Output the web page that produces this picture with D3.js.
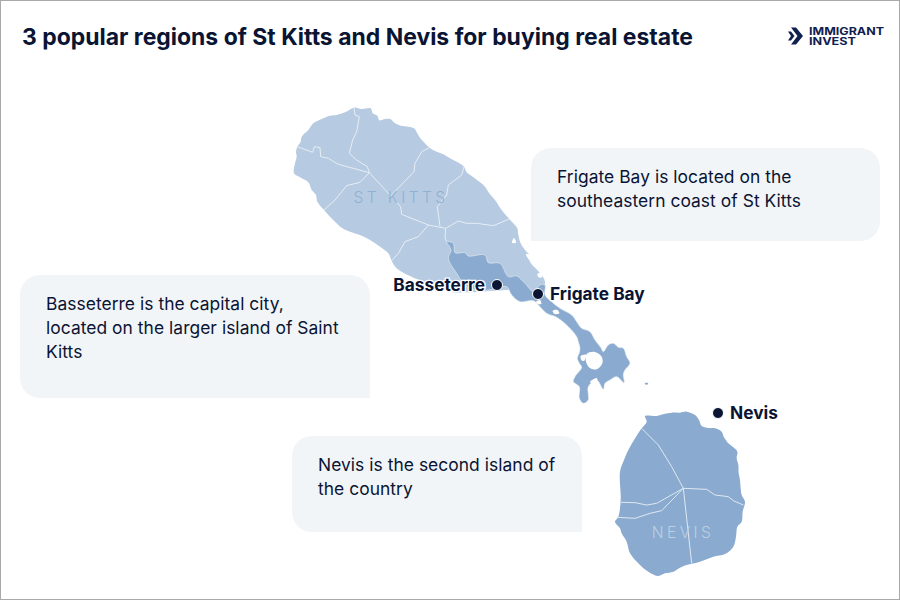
<!DOCTYPE html>
<html>
<head>
<meta charset="utf-8">
<script src="https://cdn.jsdelivr.net/npm/d3@7"></script>
<style>
html, body { margin: 0; padding: 0; background: #fff; }
svg { display: block; font-family: Inter, "Noto Sans", sans-serif; }
</style>
</head>
<body>
<div id="chart"></div>
<script>
const titleText = "3 popular regions of St Kitts and Nevis for buying real estate"
const logoLines = ["IMMIGRANT", "INVEST"]

// outlines, in crop units (3x)
const kittsOutline = [[222,38],[245,42],[272,40],[278,55],[292,62],[298,76],[315,72],[332,73],[345,85],[362,92],[385,95],[402,100],[412,115],[420,128],[435,145],[448,158],[470,170],[490,178],[510,190],[530,200],[552,215],[560,232],[578,245],[600,262],[615,275],[628,295],[645,315],[665,345],[688,372],[700,385],[712,400],[715,420],[722,445],[735,465],[748,480],[750,500],[780,534],[795,561],[780,591],[700,585],[600,590],[560,592],[510,590],[450,565],[400,548],[350,520],[335,497],[325,475],[300,455],[270,435],[240,420],[210,410],[185,398],[165,380],[150,365],[132,345],[112,320],[108,300],[95,285],[85,262],[60,247],[42,235],[45,205],[50,185],[48,170],[52,155],[62,140],[65,125],[85,105],[100,85],[125,72],[150,62],[170,60],[195,52]]
const kittsBorders = [
	[[222,38],[225,60],[238,65],[230,110],[218,135],[208,175],[230,195],[262,215],[268,233]],
	[[52,155],[98,172],[103,155],[120,158],[122,185],[145,190],[175,208],[268,233]],
	[[268,233],[240,262],[200,272],[165,315],[132,345]],
	[[268,233],[362,335],[365,358],[445,390],[497,400]],
	[[448,158],[425,170],[405,205],[402,230],[330,305]],
	[[552,215],[545,240],[505,270],[500,300],[472,335],[480,395]],
	[[497,400],[535,378],[560,385],[590,385],[640,392],[688,372]],
	[[497,400],[495,430],[500,440]],
	[[445,390],[415,425],[375,440],[355,475],[335,497]]
]
const bayOutline = [[20,35],[40,40],[45,68],[75,68],[85,78],[135,75],[145,98],[180,100],[205,140],[230,138],[255,160],[280,185],[300,165],[315,165],[315,195],[335,215],[360,235],[395,255],[410,275],[425,295],[450,305],[465,330],[482,352],[490,365],[505,345],[520,340],[535,352],[550,355],[560,380],[570,400],[555,420],[550,432],[552,458],[530,440],[510,450],[495,460],[490,478],[470,450],[445,470],[445,495],[445,510],[430,520],[418,505],[418,470],[400,455],[405,440],[425,412],[418,400],[412,385],[418,368],[420,355],[415,335],[410,320],[385,290],[350,262],[320,250],[300,230],[280,212],[240,215],[215,195],[200,170],[160,178],[110,180],[75,165],[50,130],[25,85],[33,60]]
const bayHoles = [
	[[440,372],[465,366],[485,380],[487,400],[470,418],[450,414],[438,395]],
	[[422,378],[438,374],[432,393],[424,390]],
	[[450,456],[470,444],[472,456],[456,460]],
	[[338,243],[352,240],[358,250],[344,252]],
	[[216,38],[222,24],[228,38]],
	[[258,72],[268,74],[280,92],[268,90]],
	[[292,132],[305,130],[305,142],[296,142]],
	[[288,215],[300,210],[304,222],[294,222]]
]
const bayIslet = [[615,459],[624,459],[624,463],[615,463]]
const nevisOutline = [[135,48],[170,48],[192,42],[215,38],[240,38],[260,35],[285,45],[297,60],[305,78],[325,84],[345,85],[365,95],[372,112],[385,130],[400,142],[412,155],[410,175],[415,195],[416,220],[420,240],[422,265],[425,285],[435,305],[428,335],[425,365],[412,380],[408,410],[400,440],[375,462],[340,470],[300,485],[260,495],[240,503],[220,515],[195,520],[175,528],[145,515],[120,495],[90,460],[80,425],[65,400],[60,385],[45,365],[55,350],[62,300],[60,215],[72,180],[85,150],[108,110],[125,85],[140,65]]
const nevisBorders = [
	[[125,85],[175,135],[215,200],[250,265]],
	[[250,265],[320,268],[345,285],[385,290],[400,302],[430,315]],
	[[250,265],[275,490]],
	[[250,265],[170,310],[140,315],[105,308],[62,307]],
	[[250,265],[185,332],[150,340],[105,355],[50,352]]
]

const cities = [
	{ name: "Basseterre", lon: 497, lat: 285, side: "left" },
	{ name: "Frigate Bay", lon: 538, lat: 294, side: "right" },
	{ name: "Nevis", lon: 718, lat: 413, side: "right" }
]
const islandLabels = [
	{ name: "ST KITTS", x: 401, y: 203, color: "#8fb0d3" },
	{ name: "NEVIS", x: 683, y: 538, color: "#bccfe3" }
]
const notes = [
	{ x: 531, y: 148, w: 349, h: 93, square: "bl", lines: ["Frigate Bay is located on the", "southeastern coast of St Kitts"] },
	{ x: 20, y: 275, w: 350, h: 123, square: "br", lines: ["Basseterre is the capital city,", "located on the larger island of Saint", "Kitts"] },
	{ x: 292, y: 436, w: 290, h: 96, square: "br", lines: ["Nevis is the second island of", "the country"] }
]

const width = 900, height = 600
const light = "#b6cbe1", dark = "#8aabcf", ink = "#0a1433", noteFill = "#f2f5f8"

const svg = d3.select("#chart").append("svg").attr("width", width).attr("height", height)

svg.append("rect").attr("x", 0.5).attr("y", 0.5).attr("width", width - 1).attr("height", height - 1)
	.attr("fill", "#fff").attr("stroke", "#a9a9a9")

svg.append("text").attr("x", 22).attr("y", 45).attr("font-size", 23.1).attr("font-weight", 700)
	.attr("fill", ink).attr("textLength", 671).attr("lengthAdjust", "spacingAndGlyphs").text(titleText)

// each crop gets its own pair of scales back to the page
const cropScales = (x0, y0, w, h) => {
	const x = d3.scaleLinear().domain([0, w * 3]).range([x0, x0 + w])
	const y = d3.scaleLinear().domain([0, h * 3]).range([y0, y0 + h])
	return {
		open: d3.line().x(d => x(d[0])).y(d => y(d[1])),
		closed: d3.line().x(d => x(d[0])).y(d => y(d[1])).curve(d3.curveCatmullRomClosed.alpha(0.5))
	}
}
const kitts = cropScales(280, 95, 250, 200)
const bay = cropScales(440, 230, 220, 180)
const nevis = cropScales(600, 400, 160, 180)

const map = svg.append("g")
map.append("path").attr("d", kitts.closed(kittsOutline)).attr("fill", light)
map.selectAll(".kitts-border").data(kittsBorders).enter().append("path")
	.attr("class", "kitts-border").attr("d", kitts.open).attr("fill", "none")
	.attr("stroke", "#e6edf5").attr("stroke-width", 1)

map.append("path").attr("d", bay.closed(bayOutline)).attr("fill", dark).attr("stroke", "#e6edf5").attr("stroke-width", 0.6)
map.selectAll(".hole").data(bayHoles).enter().append("path")
	.attr("class", "hole").attr("d", bay.closed).attr("fill", "#fff")
map.append("path").attr("d", bay.closed(bayIslet)).attr("fill", dark)

map.append("path").attr("d", nevis.closed(nevisOutline)).attr("fill", dark)
map.selectAll(".nevis-border").data(nevisBorders).enter().append("path")
	.attr("class", "nevis-border").attr("d", nevis.open).attr("fill", "none")
	.attr("stroke", "#dfe8f2").attr("stroke-width", 1)

svg.selectAll(".island").data(islandLabels).enter().append("text")
	.attr("class", "island").attr("x", d => d.x).attr("y", d => d.y)
	.attr("text-anchor", "middle").attr("font-size", 15.5).attr("font-weight", 300).attr("letter-spacing", 3.4)
	.attr("fill", d => d.color).text(d => d.name)

const note = svg.selectAll(".note").data(notes).enter().append("g").attr("class", "note")
note.append("path").attr("fill", noteFill).attr("d", d => {
	const r = 20, x = d.x, y = d.y, w = d.w, h = d.h
	const br = d.square === "br" ? 0 : r, bl = d.square === "bl" ? 0 : r
	return `M${x + r},${y}H${x + w - r}A${r},${r} 0 0 1 ${x + w},${y + r}V${y + h - br}A${br},${br} 0 0 1 ${x + w - br},${y + h}H${x + bl}A${bl},${bl} 0 0 1 ${x},${y + h - bl}V${y + r}A${r},${r} 0 0 1 ${x + r},${y}Z`
})
note.each(function (d) {
	d3.select(this).selectAll("text").data(d.lines).enter().append("text")
		.attr("x", d.x + 26).attr("y", (l, i) => d.y + 35 + i * 24)
		.attr("font-size", 17.4).attr("letter-spacing", 0.05).attr("fill", ink).text(l => l)
})

const city = svg.selectAll(".city").data(cities).enter().append("g").attr("class", "city")
city.append("circle").attr("cx", d => d.lon).attr("cy", d => d.lat).attr("r", 5.5)
	.attr("fill", ink).attr("stroke", "#fff").attr("stroke-width", 1)
city.append("text")
	.attr("x", d => d.side === "left" ? d.lon - 12 : d.lon + 12)
	.attr("y", d => d.lat + 6)
	.attr("text-anchor", d => d.side === "left" ? "end" : "start")
	.attr("font-size", 17.3).attr("font-weight", 700).attr("fill", ink)
	.attr("stroke", "#fff").attr("stroke-width", 2.5).attr("paint-order", "stroke")
	.text(d => d.name)

// logo
const logo = svg.append("g").attr("fill", "#10204f")
logo.append("path").attr("d", "M791,27.5L796,27.5L803,36L796,44.5L791,44.5L797.5,36Z")
logo.append("path").attr("d", "M788,31.5L791,31.5L794.5,36L791,40.5L788,40.5L791,36Z")
logo.selectAll("text").data(logoLines).enter().append("text")
	.attr("x", 809).attr("y", (d, i) => 35 + i * 10.4)
	.attr("font-size", 10).attr("font-weight", 700)
	.attr("textLength", (d, i) => i === 0 ? 75 : 47).attr("lengthAdjust", "spacingAndGlyphs").text(d => d)
</script>
</body>
</html>
